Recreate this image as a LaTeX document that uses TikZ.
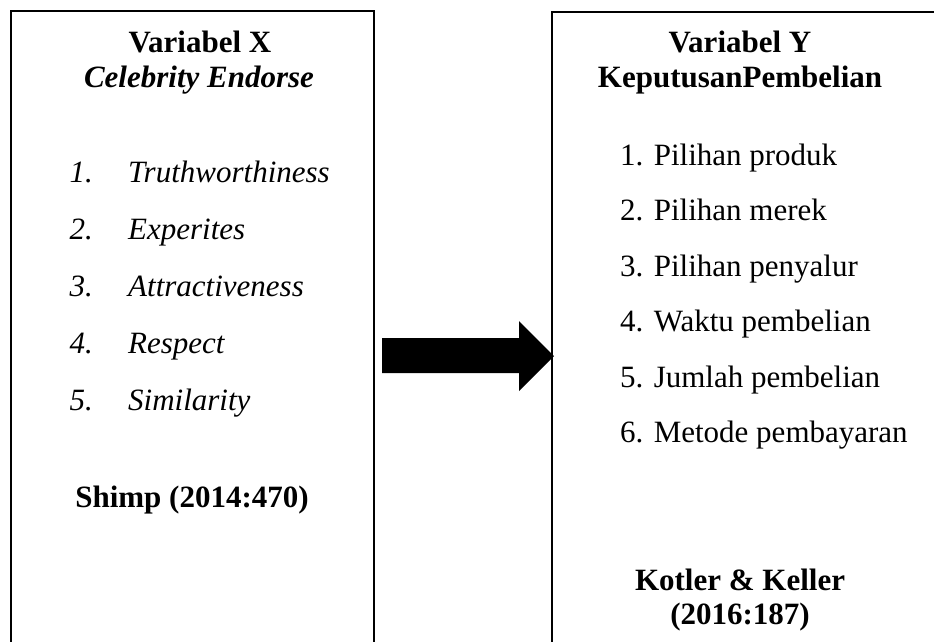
\documentclass[tikz,border=0pt]{standalone}
\usepackage{fontspec}
\setmainfont{Liberation Serif}
\begin{document}
\begin{tikzpicture}[x=1pt,y=-1pt, font=\fontsize{31}{36}\selectfont, line join=miter,
	box/.style={line width=1.6pt},
	head/.style={anchor=base, inner sep=0pt, font=\fontsize{31}{36}\selectfont\bfseries},
	itemx/.style={anchor=base west, inner sep=0pt, font=\fontsize{31}{36}\selectfont\itshape},
	numx/.style={anchor=base east, inner sep=0pt, font=\fontsize{31}{36}\selectfont\itshape},
	itemy/.style={anchor=base west, inner sep=0pt}]
	\clip (0,0) rectangle (934,641);
	\useasboundingbox (0,0) rectangle (934,641);
	% the two boxes
	\draw[box] (11,700)--(11,11)--(374,11)--(374,700);
	\draw[box] (552,700)--(552,12)--(960,12);
	% left box: variabel X
	\node[head] (vx) at (200,52) {Variabel X};
	\node[head, font=\fontsize{31}{36}\selectfont\bfseries\itshape] (ce) at (199,87) {Celebrity Endorse};
	\foreach \i/\t in {1/Truthworthiness,2/Experites,3/Attractiveness,4/Respect,5/Similarity}
	{
		\node[numx] (nx\i) at (93,{182+57*(\i-1)}) {\i.};
		\node[itemx] (ix\i) at (128,{182+57*(\i-1)}) {\t};
	}
	\node[head] (shimp) at (192,507) {Shimp (2014:470)};
	% right box: variabel Y
	\node[head] (vy) at (740,52) {Variabel Y};
	\node[head] (kp) at (740,87) {KeputusanPembelian};
	\foreach \i/\t in {1/Pilihan produk,2/Pilihan merek,3/Pilihan penyalur,4/Waktu pembelian,5/Jumlah pembelian,6/Metode pembayaran}
	\node[itemy] (iy\i) at (620,{165+55.5*(\i-1)}) {\i. \t};
	\node[head] (kk) at (740,590) {Kotler \& Keller};
	\node[head] (yr) at (740,624) {(2016:187)};
	% block arrow
	\fill (382,338)--(519,338)--(519,321)--(554,356)--(519,391)--(519,373)--(382,373)--cycle;
\end{tikzpicture}
\end{document}
